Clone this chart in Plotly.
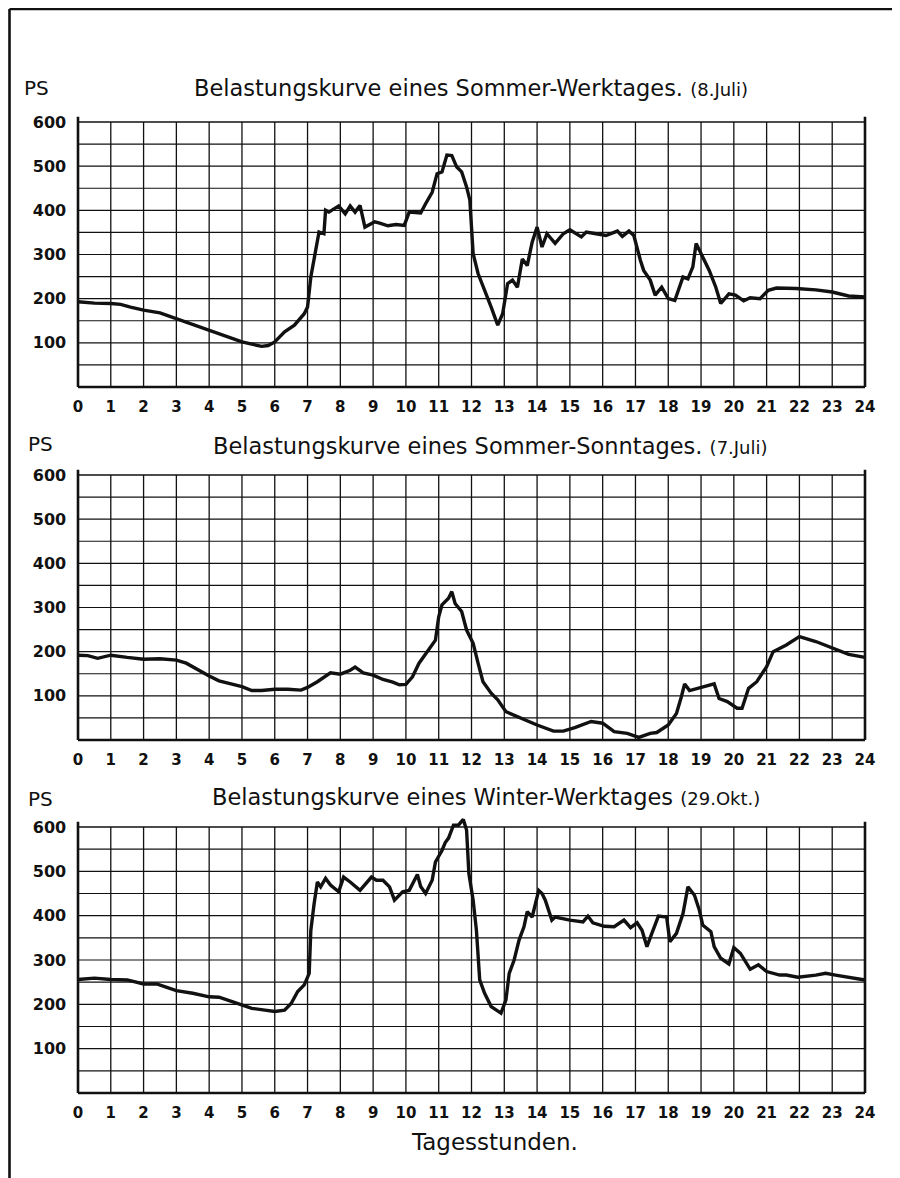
import plotly.graph_objects as go

# ---------------- data ----------------
HOURS = list(range(25))
HOUR_LABELS = [str(h) for h in HOURS]
PS_TICKS = [100, 200, 300, 400, 500, 600]
PS_TICK_LABELS = [str(v) for v in PS_TICKS]
PS_GRID = list(range(0, 601, 50))

TITLES = [
    "Belastungskurve eines Sommer-Werktages.",
    "Belastungskurve eines Sommer-Sonntages.",
    "Belastungskurve eines Winter-Werktages",
]
DATES = ["(8.Juli)", "(7.Juli)", "(29.Okt.)"]
Y_LABEL = "PS"
X_LABEL = "Tagesstunden."

sommer_werktag_h = [0, 0.5, 1, 1.3, 1.6, 2, 2.5, 3, 3.5, 4, 4.5, 5, 5.3, 5.6, 5.8, 6, 6.3, 6.6, 6.9, 7.0,
                    7.1, 7.25, 7.35, 7.5, 7.55, 7.65, 7.85, 7.95, 8.15, 8.3, 8.45, 8.6, 8.75, 9.05, 9.2,
                    9.45, 9.7, 9.95, 10.1, 10.45, 10.6, 10.8, 10.95, 11.1, 11.25, 11.4, 11.55, 11.7, 11.85,
                    11.95, 12.0, 12.05, 12.2, 12.45, 12.6, 12.8, 12.95, 13.1, 13.25, 13.4, 13.55, 13.7,
                    13.85, 14.0, 14.15, 14.3, 14.55, 14.8, 15.0, 15.35, 15.5, 15.8, 16.1, 16.45, 16.6,
                    16.8, 16.95, 17.15, 17.25, 17.45, 17.6, 17.8, 18.0, 18.2, 18.45, 18.6, 18.75, 18.85,
                    19.0, 19.25, 19.45, 19.6, 19.85, 20.05, 20.3, 20.5, 20.8, 21.05, 21.3, 21.9, 22.5,
                    23.0, 23.5, 24]
sommer_werktag_ps = [193, 190, 189, 187, 181, 174, 168, 155, 143, 130, 115, 102, 97, 92, 94, 102, 125, 140, 166, 181,
                     249, 317, 351, 347, 400, 396, 404, 410, 392, 410, 396, 411, 362, 374, 371,
                     365, 368, 366, 396, 394, 415, 441, 483, 487, 525, 524, 498, 487, 453,
                     423, 362, 302, 257, 211, 181, 140, 166, 234, 242, 226, 290, 275,
                     328, 362, 317, 347, 325, 347, 356, 340, 351, 347, 343, 353, 341,
                     353, 343, 287, 264, 242, 208, 226, 200, 196, 249, 245, 272, 325,
                     302, 264, 226, 189, 211, 208, 195, 202, 200, 219, 224, 223, 220,
                     215, 206, 204]

sommer_sonntag_h = [0, 0.3, 0.6, 1.0, 1.5, 2.0, 2.5, 3.0, 3.3, 3.7, 4.0, 4.3, 4.7, 5.0, 5.3, 5.6, 6.0, 6.4,
                    6.8, 7.0, 7.3, 7.6, 7.7, 8.0, 8.3, 8.45, 8.7, 9.0, 9.3, 9.6, 9.8, 10.0, 10.2, 10.4,
                    10.6, 10.8, 10.9, 11.0, 11.1, 11.3, 11.4, 11.5, 11.7, 11.85, 12.05, 12.2, 12.35, 12.6,
                    12.8, 13.05, 13.45, 14.0, 14.5, 14.8, 15.15, 15.65, 16.0, 16.35, 16.75, 17.1, 17.45,
                    17.65, 18.0, 18.25, 18.4, 18.5, 18.65, 18.9, 19.15, 19.4, 19.55, 19.8, 20.1, 20.25,
                    20.45, 20.7, 21.0, 21.2, 21.6, 22.0, 22.5, 23.0, 23.5, 24]
sommer_sonntag_ps = [192, 191, 185, 192, 187, 183, 184, 181, 174, 157, 145, 134, 127, 121, 112, 112, 115, 115,
                     113, 119, 132, 147, 152, 149, 158, 165, 152, 147, 137, 131, 125, 126, 143, 174,
                     196, 215, 226, 279, 306, 321, 336, 309, 291, 249, 219, 174, 132, 106,
                     91, 64, 51, 34, 20, 20, 28, 42, 38, 19, 15, 6, 15,
                     17, 34, 60, 98, 127, 112, 117, 121, 127, 94, 87, 72, 72,
                     117, 132, 166, 200, 215, 234, 223, 208, 194, 187]

winter_werktag_h = [0, 0.5, 1.0, 1.5, 2.0, 2.4, 3.0, 3.5, 4.0, 4.3, 4.7, 5.0, 5.3, 5.7, 6.0, 6.3, 6.5, 6.7,
                    6.9, 7.05, 7.1, 7.2, 7.3, 7.4, 7.55, 7.7, 7.95, 8.1, 8.3, 8.6, 8.95, 9.1, 9.3, 9.5,
                    9.65, 9.9, 10.1, 10.35, 10.45, 10.6, 10.8, 10.9, 11.1, 11.2, 11.3, 11.45, 11.6, 11.75,
                    11.85, 11.92, 12.05, 12.15, 12.25, 12.4, 12.6, 12.9, 13.05, 13.15, 13.3, 13.45, 13.6,
                    13.7, 13.85, 14.05, 14.15, 14.25, 14.45, 14.55, 15.0, 15.4, 15.55, 15.7, 16.05, 16.35,
                    16.65, 16.85, 17.05, 17.2, 17.35, 17.5, 17.7, 17.95, 18.05, 18.25, 18.45, 18.6, 18.8,
                    18.95, 19.05, 19.3, 19.4, 19.6, 19.85, 20.0, 20.2, 20.5, 20.75, 21.0, 21.4, 21.6,
                    21.95, 22.5, 22.8, 23.1, 23.5, 24]
winter_werktag_ps = [256, 259, 256, 255, 246, 246, 231, 225, 217, 216, 206, 199, 191, 187, 184, 187, 202, 229,
                     244, 270, 367, 427, 476, 465, 484, 469, 454, 487, 476, 457, 487, 480, 480, 465,
                     435, 454, 457, 493, 466, 450, 480, 521, 547, 565, 575, 604, 604, 617,
                     593, 495, 435, 367, 255, 225, 195, 180, 210, 270, 300, 345, 375,
                     409, 397, 457, 450, 435, 390, 397, 390, 386, 399, 384, 376, 375,
                     390, 373, 384, 367, 330, 360, 399, 397, 341, 360, 405, 465, 446,
                     412, 379, 364, 330, 304, 291, 328, 315, 279, 289, 274, 266, 266,
                     261, 266, 270, 266, 261, 255]

SERIES = [
    (sommer_werktag_h, sommer_werktag_ps),
    (sommer_sonntag_h, sommer_sonntag_ps),
    (winter_werktag_h, winter_werktag_ps),
]

# ---------------- layout geometry (page pixels; the page body adds an 8 px offset) ----------------
OFF = 8
W, H = 900 - OFF, 1178 - OFF
X0_PX, X24_PX = 78 - OFF, 865 - OFF
PANELS_PX = [(122 - OFF, 387 - OFF), (475 - OFF, 740 - OFF), (827 - OFF, 1093 - OFF)]
XMIN, XMAX = -0.3, 24.3
YMIN, YMAX = -8, 632
FONT = "DejaVu Sans"
INK = "#111111"

pph = (X24_PX - X0_PX) / 24.0
x_dom = [(X0_PX + XMIN * pph) / W, (X0_PX + XMAX * pph) / W]

fig = go.Figure()
shapes = []
annotations = []
layout = {}

for i, ((top_px, bot_px), (hx, hy)) in enumerate(zip(PANELS_PX, SERIES)):
    n = i + 1
    xa = "x" if n == 1 else f"x{n}"
    ya = "y" if n == 1 else f"y{n}"
    ppp = (bot_px - top_px) / 600.0
    y_dom = [1 - (bot_px - YMIN * ppp) / H, 1 - (bot_px - YMAX * ppp) / H]

    layout[f"xaxis{'' if n == 1 else n}"] = dict(
        domain=x_dom, range=[XMIN, XMAX], anchor=ya,
        showgrid=False, zeroline=False, showline=False,
        tickmode="array", tickvals=HOURS, ticktext=HOUR_LABELS,
        ticks="", ticklabelstandoff=5,
        tickfont=dict(family=FONT, size=15, color=INK, weight="bold"),
    )
    layout[f"yaxis{'' if n == 1 else n}"] = dict(
        domain=y_dom, range=[YMIN, YMAX], anchor=xa,
        showgrid=False, zeroline=False, showline=False,
        tickmode="array", tickvals=PS_TICKS, ticktext=PS_TICK_LABELS,
        ticks="", ticklabelstandoff=1,
        tickfont=dict(family=FONT, size=16, color=INK, weight="bold"),
    )

    # grid
    for hv in HOURS:
        edge = hv in (HOURS[0], HOURS[-1])
        shapes.append(dict(type="line", xref=xa, yref=ya, x0=hv, x1=hv,
                           y0=0, y1=PS_GRID[-1] + (12 if edge else 0),
                           line=dict(color=INK, width=2.6 if edge else 1.3), layer="below"))
    for pv in PS_GRID:
        shapes.append(dict(type="line", xref=xa, yref=ya, x0=HOURS[0], x1=HOURS[-1],
                           y0=pv, y1=pv,
                           line=dict(color=INK, width=2.6 if pv == 0 else (1.6 if pv == 600 else 1.2)),
                           layer="below"))

    fig.add_trace(go.Scatter(x=hx, y=hy, xaxis=xa, yaxis=ya, mode="lines",
                             line=dict(color=INK, width=3.4), showlegend=False,
                             hoverinfo="skip"))

# titles (page pixel positions)
TITLE_POS = [(471, 88), (490, 446), (486, 797)]
PS_POS = [(37, 88), (40, 444), (40, 799)]
for (t, d), (tx, ty), (px, py) in zip(zip(TITLES, DATES), TITLE_POS, PS_POS):
    annotations.append(dict(xref="paper", yref="paper", x=(tx - OFF) / W, y=1 - (ty - OFF) / H,
                            text=f"{t} <span style='font-size:18px'>{d}</span>",
                            showarrow=False, xanchor="center", yanchor="middle",
                            font=dict(family=FONT, size=22.5, color=INK)))
    annotations.append(dict(xref="paper", yref="paper", x=(px - OFF) / W, y=1 - (py - OFF) / H,
                            text=Y_LABEL, showarrow=False, xanchor="center", yanchor="middle",
                            font=dict(family=FONT, size=20, color=INK)))
annotations.append(dict(xref="paper", yref="paper", x=(495 - OFF) / W, y=1 - (1142 - OFF) / H,
                        text=X_LABEL, showarrow=False, xanchor="center", yanchor="middle",
                        font=dict(family=FONT, size=23, color=INK)))

# outer frame (left and top edges of the sheet)
shapes.append(dict(type="line", xref="paper", yref="paper", x0=1.5 / W, x1=1.5 / W, y0=0, y1=1 - 1 / H,
                   line=dict(color=INK, width=2.6)))
shapes.append(dict(type="line", xref="paper", yref="paper", x0=1.5 / W, x1=(898 - OFF) / W,
                   y0=1 - 1 / H, y1=1 - 1 / H, line=dict(color=INK, width=2.6)))

fig.update_layout(width=W, height=H, margin=dict(l=0, r=0, t=0, b=0),
                  paper_bgcolor="white", plot_bgcolor="rgba(0,0,0,0)",
                  shapes=shapes, annotations=annotations, showlegend=False, **layout)

fig.write_html("out.html")
